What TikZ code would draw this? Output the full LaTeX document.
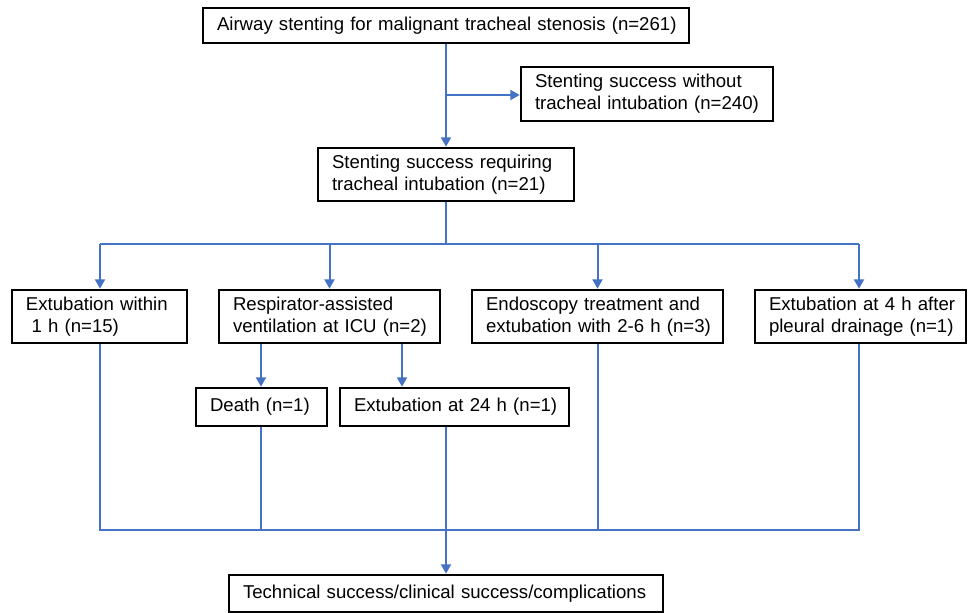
\documentclass[tikz,border=0pt]{standalone}
\usepackage{fontspec}
\setmainfont{Liberation Sans}
\usetikzlibrary{arrows.meta}
\definecolor{lineblue}{RGB}{68,114,196}
\newlength\jlen
\tikzset{
  fbox/.style={draw=black, line width=2pt, inner xsep=10.5pt, inner ysep=0pt,
    align=left, font=\fontsize{13.95pt}{16.5pt}\selectfont, anchor=center},
  conn/.style={draw=lineblue, line width=1.5pt},
  arr/.style={conn, -{Triangle[length=7pt,width=7.5pt]}}
}
\begin{document}
\begin{tikzpicture}[x=0.75pt,y=-0.75pt]
\useasboundingbox (0,0) rectangle (968,613);
% boxes
\node[fbox, text width=458*0.75pt, minimum height=35*0.75pt] (top) at (446,25.5)
  {\mbox{Airway stenting for malignant tracheal stenosis (n=261)}};
\node[fbox, text width=224*0.75pt, minimum height=54*0.75pt] (s240) at (647,94)
  {\mbox{Stenting success without}\\\mbox{tracheal intubation (n=240)}};
\node[fbox, text width=228*0.75pt, minimum height=53*0.75pt] (s21) at (446,174.5)
  {\mbox{Stenting success requiring}\\\mbox{tracheal intubation (n=21)}};
\node[fbox, text width=147*0.75pt, minimum height=53*0.75pt] (A) at (99.5,316.5)
  {\mbox{Extubation within}\\\mbox{\hspace*{0.3em}1 h (n=15)}};
\node[fbox, text width=193*0.75pt, minimum height=53*0.75pt] (B) at (329.5,316.5)
  {\mbox{Respirator-assisted}\\\mbox{ventilation at ICU (n=2)}};
\node[fbox, text width=223*0.75pt, minimum height=53*0.75pt] (C) at (597.5,316.5)
  {\settowidth{\jlen}{extubation with 2-6 h (n=3)}\makebox[\jlen][s]{Endoscopy treatment and}\\\mbox{extubation with 2-6 h (n=3)}};
\node[fbox, text width=183*0.75pt, minimum height=53*0.75pt] (D) at (860.5,316.5)
  {\mbox{Extubation at 4 h after}\\\mbox{pleural drainage (n=1)}};
\node[fbox, text width=103*0.75pt, minimum height=38*0.75pt] (death) at (261.5,407)
  {\mbox{Death (n=1)}};
\node[fbox, text width=201*0.75pt, minimum height=38*0.75pt] (e24) at (454.5,407)
  {\mbox{Extubation at 24 h (n=1)}};
\node[fbox, text width=406*0.75pt, minimum height=37*0.75pt] (bot) at (446,593.5)
  {\mbox{Technical success/clinical success/complications}};
% helper coordinates
\coordinate (br1) at (446,95);
\coordinate (sp) at (446,244);
\coordinate (spl) at (100,244);
\coordinate (spr) at (859,244);
\coordinate (k1) at (261,0);
\coordinate (k2) at (402,0);
\coordinate (mid) at (446,0);
\coordinate (ml) at (100,530);
\coordinate (mr) at (859,530);
% connectors
\draw[arr] (top.south) -- (s21.north);
\draw[arr] (br1) -- (br1 -| s240.west);
\draw[conn] (s21.south) -- (sp);
\draw[conn] (spl) -- (spr);
\draw[arr] (spl) -- (A.north -| spl);
\draw[arr] (sp -| B.north) -- (B.north);
\draw[arr] (sp -| C.north) -- (C.north);
\draw[arr] (spr) -- (D.north -| spr);
\draw[arr] (B.south -| k1) -- (death.north -| k1);
\draw[arr] (B.south -| k2) -- (e24.north -| k2);
\draw[conn] (A.south -| ml) -- (ml) -- (mr) -- (D.south -| mr);
\draw[conn] (death.south -| k1) -- (ml -| k1);
\draw[conn] (C.south) -- (ml -| C.south);
\draw[arr] (e24.south -| mid) -- (bot.north);
\end{tikzpicture}
\end{document}
